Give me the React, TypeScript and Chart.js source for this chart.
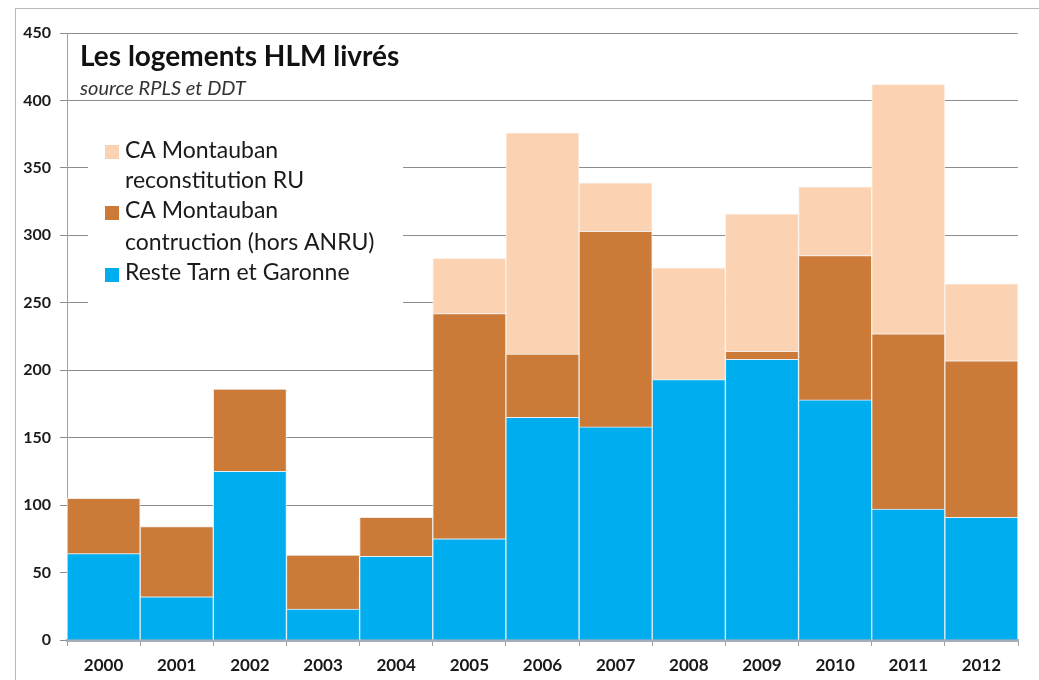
import React, { useEffect, useRef } from "react";
import { Chart, registerables } from "chart.js";

Chart.register(...registerables);

const years = ["2000", "2001", "2002", "2003", "2004", "2005", "2006", "2007", "2008", "2009", "2010", "2011", "2012"];
const resteTarnGaronne = [64, 32, 125, 23, 62, 75, 165, 158, 193, 208, 178, 97, 91];
const caConstruction = [41, 52, 61, 40, 29, 167, 47, 145, 0, 6, 107, 130, 116];
const caReconstitution = [0, 0, 0, 0, 0, 41, 164, 36, 83, 102, 51, 185, 57];
const yTicks = [0, 50, 100, 150, 200, 250, 300, 350, 400, 450];

const titleText = "Les logements HLM livrés";
const subtitleText = "source RPLS et DDT";
const legendItems = [
  { lines: ["CA Montauban", "reconstitution RU"], color: "#FBD3B3" },
  { lines: ["CA Montauban", "contruction (hors ANRU)"], color: "#CC7A38" },
  { lines: ["Reste Tarn et Garonne"], color: "#00AEEF" },
];

const FONT = "Lato, 'Open Sans', sans-serif";

const overlayPlugin = {
  id: "overlay",
  beforeDraw(chart: any) {
    const ctx = chart.ctx;
    ctx.save();
    ctx.fillStyle = "#ffffff";
    ctx.fillRect(0, 0, chart.width, chart.height);
    ctx.strokeStyle = "#b8b8b8";
    ctx.lineWidth = 1;
    ctx.strokeRect(15.5, 8.5, chart.width, chart.height);
    ctx.restore();
  },
  beforeDatasetsDraw(chart: any) {
    const ctx = chart.ctx;
    ctx.save();
    ctx.fillStyle = "#ffffff";
    ctx.fillRect(88, 112, 315, 203);
    ctx.restore();
  },
  afterDraw(chart: any) {
    const ctx = chart.ctx;
    ctx.save();
    ctx.fillStyle = "#111111";
    ctx.textBaseline = "alphabetic";
    ctx.textAlign = "left";
    ctx.font = `bold 28px ${FONT}`;
    ctx.fillText(titleText, 80, 66);
    ctx.font = `italic 20px ${FONT}`;
    ctx.fillStyle = "#333333";
    ctx.fillText(subtitleText, 80, 95);

    ctx.font = `23px ${FONT}`;
    const baselines = [[158, 188], [218, 250], [280]];
    const squares = [145, 206, 268];
    legendItems.forEach((item, i) => {
      ctx.fillStyle = item.color;
      ctx.fillRect(105, squares[i], 14, 14);
      ctx.fillStyle = "#1a1a1a";
      item.lines.forEach((line, j) => {
        ctx.fillText(line, 125, baselines[i][j]);
      });
    });
    ctx.restore();
  },
};

export default function App() {
  const ref = useRef<HTMLCanvasElement | null>(null);
  useEffect(() => {
    if (!ref.current) return;
    const chart = new Chart(ref.current, {
      type: "bar",
      data: {
        labels: years,
        datasets: [
          {
            label: "Reste Tarn et Garonne",
            data: resteTarnGaronne,
            backgroundColor: "#00AEEF",
            borderColor: "#e8eef2",
            borderWidth: 1,
            categoryPercentage: 1,
            barPercentage: 1,
          },
          {
            label: "CA Montauban contruction (hors ANRU)",
            data: caConstruction,
            backgroundColor: "#CC7A38",
            borderColor: "#f2ece6",
            borderWidth: 1,
            categoryPercentage: 1,
            barPercentage: 1,
          },
          {
            label: "CA Montauban reconstitution RU",
            data: caReconstitution,
            backgroundColor: "#FBD3B3",
            borderColor: "#fbf3ec",
            borderWidth: 1,
            categoryPercentage: 1,
            barPercentage: 1,
          },
        ],
      },
      options: {
        responsive: false,
        animation: false,
        devicePixelRatio: 1,
        layout: { padding: { top: 33, right: 21, left: 0, bottom: 0 } },
        plugins: {
          legend: { display: false },
          tooltip: { enabled: false },
          title: { display: false },
        },
        scales: {
          x: {
            stacked: true,
            grid: {
              offset: true,
              drawOnChartArea: false,
              drawTicks: true,
              tickLength: 6,
              color: "#a0a0a0",
            },
            border: { color: "#a2adb8", width: 3 },
            ticks: {
              color: "#1a1a1a",
              font: { family: FONT, size: 17, weight: "bold" },
              padding: 9,
            },
            afterFit(scale: any) {
              scale.height = 40;
            },
          },
          y: {
            stacked: true,
            min: 0,
            max: 450,
            afterBuildTicks(scale: any) {
              scale.ticks = yTicks.map((v) => ({ value: v }));
            },
            grid: {
              color: "#8c8c8c",
              lineWidth: 1,
              tickLength: 7,
            },
            border: { color: "#a0a0a0", width: 1 },
            ticks: {
              color: "#1a1a1a",
              font: { family: FONT, size: 16, weight: "bold" },
              padding: 9,
            },
            afterFit(scale: any) {
              scale.width = 67;
            },
          },
        },
      },
      plugins: [overlayPlugin],
    } as any);
    return () => chart.destroy();
  }, []);
  return (
    <div style={{ position: "fixed", left: 0, top: 0, width: 1039, height: 680, background: "#fff" }}>
      <canvas ref={ref} width={1039} height={680} style={{ display: "block" }} />
    </div>
  );
}
